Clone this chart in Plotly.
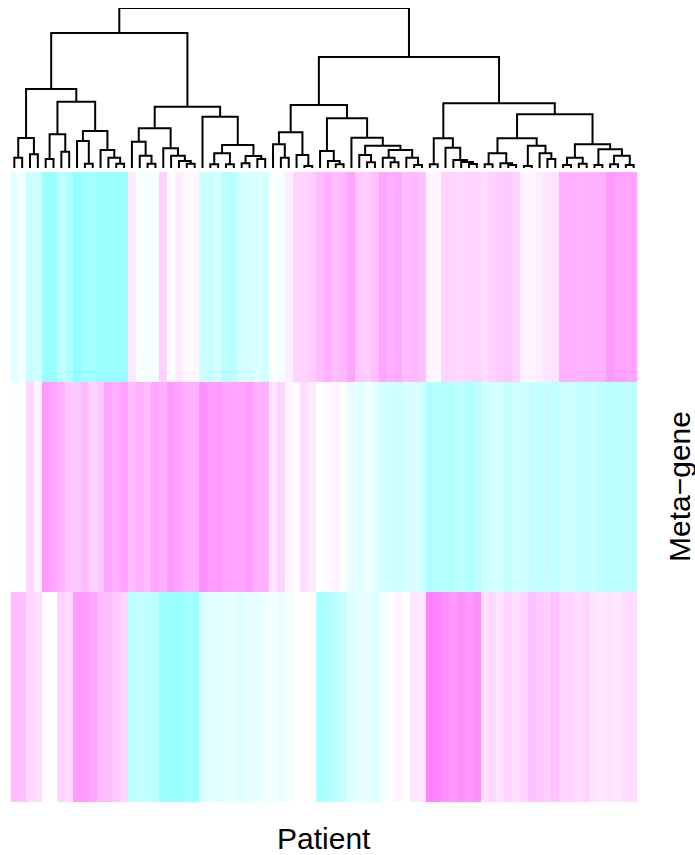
import plotly.graph_objects as go

# ---------------- data ----------------
n_patients = 80
patient_pos = list(range(n_patients))
metagene_rows = [0, 1, 2]

# meta-gene expression per patient (columns already in dendrogram order)
metagene1 = [-0.12, -0.05, -0.25, -0.22, -0.45, -0.45, -0.28, -0.35, -0.5, -0.42,
             -0.42, -0.45, -0.45, -0.45, -0.45, 0.1, -0.03, -0.05, -0.03, 0.2,
             0.0, 0.08, 0.03, 0.03, -0.22, -0.25, -0.2, -0.32, -0.3, -0.18,
             -0.2, -0.15, -0.2, 0.0, -0.05, 0.08, 0.2, 0.2, 0.22, 0.3,
             0.35, 0.3, 0.32, 0.4, 0.25, 0.22, 0.28, 0.4, 0.35, 0.38,
             0.3, 0.32, 0.28, 0.05, 0.04, 0.2, 0.2, 0.18, 0.2, 0.2,
             0.15, 0.2, 0.22, 0.25, 0.2, 0.05, 0.05, 0.08, 0.12, 0.12,
             0.35, 0.35, 0.33, 0.35, 0.35, 0.35, 0.45, 0.42, 0.4, 0.4]
metagene2 = [0.02, -0.02, 0.18, 0.05, 0.45, 0.4, 0.35, 0.25, 0.25, 0.3,
             0.2, 0.25, 0.4, 0.35, 0.4, 0.3, 0.35, 0.3, 0.4, 0.35,
             0.45, 0.4, 0.35, 0.35, 0.5, 0.45, 0.45, 0.4, 0.42, 0.4,
             0.45, 0.35, 0.35, 0.12, 0.2, 0.05, -0.02, 0.15, 0.1, 0.0,
             0.02, 0.05, 0.0, -0.1, -0.12, -0.08, -0.12, -0.2, -0.2, -0.22,
             -0.2, -0.18, -0.22, -0.35, -0.32, -0.35, -0.33, -0.3, -0.35, -0.3,
             -0.22, -0.2, -0.2, -0.25, -0.2, -0.22, -0.25, -0.28, -0.25, -0.28,
             -0.25, -0.22, -0.25, -0.28, -0.25, -0.3, -0.28, -0.3, -0.28, -0.3]
metagene3 = [0.3, 0.28, 0.18, 0.15, 0.02, 0.0, 0.2, 0.15, 0.45, 0.45,
             0.4, 0.3, 0.3, 0.25, 0.2, -0.3, -0.25, -0.28, -0.3, -0.45,
             -0.45, -0.45, -0.42, -0.45, -0.18, -0.12, -0.15, -0.12, -0.1, -0.15,
             -0.1, -0.12, -0.08, -0.05, -0.1, -0.05, -0.02, 0.0, 0.02, -0.35,
             -0.35, -0.3, -0.25, -0.15, -0.12, -0.1, -0.15, -0.05, -0.02, 0.05,
             0.0, 0.1, 0.1, 0.55, 0.55, 0.5, 0.45, 0.5, 0.45, 0.5,
             0.15, 0.18, 0.12, 0.2, 0.15, 0.2, 0.28, 0.25, 0.22, 0.28,
             0.2, 0.2, 0.15, 0.2, 0.12, 0.1, 0.12, 0.1, 0.15, 0.15]

# dendrogram: (merge height, left, right); ints are leaf positions
left_left = (79, (30, (10.3, 0, 1), (13.7, 2, 3)),
                 (66.3, (33.7, (9, 4, 5), (16.3, 6, 7)),
                        (37, (27, 8, (4.3, 9, 10)),
                             (18, 11, (10.3, 12, (4.3, 13, 14))))))
left_right = (61.3, (39.7, (26.3, 15, (12.3, 16, (4.3, 17, 18))),
                           (19.7, 19, (12.3, 20, (7, 21, (4.3, 22, 23))))),
                    (51.3, 24, (23, (14.7, (3.7, 25, 26), (3.7, 27, 28)),
                                    (12, (4.7, 29, 30), (9, 31, 32)))))
right_left = (63, (35.7, (23.7, 33, (10.3, 34, 35)), (13, 36, (2, 37, 38))),
                  (49.7, (17, 39, (7, 40, (3.7, 41, 42))),
                         (30.3, 43, (22.3, (13, 44, (5.7, 45, 46)),
                                           (18, (10.3, 47, (5.7, 48, 49)),
                                                (10.3, 50, (3, 51, 52)))))))
right_right = (64.7, (29.7, (3.7, 53, 54), (20.3, 55, (8, 56, (6, 57, (4, 58, 59))))),
                     (53.7, (29.7, (14.7, (3.7, 60, 61), (4.7, 62, (3, 63, 64))),
                                   (22.3, (2, 65, 66), (14.7, 67, (9, 68, 69)))),
                            (23.7, (10.3, (3, 70, 71), (4.3, 72, 73)),
                                   (18.7, (3, 74, 75), (12.3, (3.7, 76, 77), (3, 78, 79))))))
tree = (160, (135, left_left, left_right), (111, right_left, right_right))

# ---------------- build ----------------
W, H = 695, 855
seg_x, seg_y = [], []


def walk(node):
    if isinstance(node, int):
        return float(node), 0.0
    h, a, b = node
    xa, ha = walk(a)
    xb, hb = walk(b)
    seg_x.extend([xa, xa, xb, xb, None])
    seg_y.extend([ha, h, h, hb, None])
    return (xa + xb) / 2.0, h


walk(tree)

fig = go.Figure()
fig.add_trace(go.Heatmap(
    z=[metagene1, metagene2, metagene3], x=patient_pos, y=metagene_rows,
    colorscale=[[0, "rgb(30,255,255)"], [0.5, "rgb(255,255,255)"], [1, "rgb(255,30,255)"]],
    zmin=-1, zmax=1, showscale=False, hoverinfo="skip",
    xaxis="x", yaxis="y"))
fig.add_trace(go.Scatter(
    x=seg_x, y=seg_y, mode="lines", line=dict(color="black", width=2),
    hoverinfo="skip", showlegend=False, xaxis="x2", yaxis="y2"))

x_left, x_right = 10.4, 637.6
hm_top, hm_bot = 172, 802
dd_top, dd_bot = 8, 168

fig.update_layout(
    width=W, height=H, margin=dict(l=0, r=0, t=0, b=0),
    paper_bgcolor="white", plot_bgcolor="white", showlegend=False,
    xaxis=dict(domain=[x_left / W, x_right / W], range=[-0.5, n_patients - 0.5],
               visible=False, fixedrange=True),
    yaxis=dict(domain=[1 - hm_bot / H, 1 - hm_top / H], range=[2.5, -0.5],
               visible=False, fixedrange=True),
    xaxis2=dict(domain=[x_left / W, x_right / W], range=[-0.5, n_patients - 0.5],
                visible=False, anchor="y2", fixedrange=True),
    yaxis2=dict(domain=[1 - dd_bot / H, 1 - dd_top / H], range=[0, 160],
                visible=False, anchor="x2", fixedrange=True),
    annotations=[
        dict(text="Patient", x=(x_left + x_right) / 2 / W, y=1 - 838 / H,
             xref="paper", yref="paper", showarrow=False,
             font=dict(family="Liberation Sans, Arial", size=30, color="black"),
             xanchor="center", yanchor="middle"),
        dict(text="Meta\u2212gene", x=680 / W, y=1 - 487 / H, textangle=-90,
             xref="paper", yref="paper", showarrow=False,
             font=dict(family="Liberation Sans, Arial", size=30, color="black"),
             xanchor="center", yanchor="middle"),
    ],
)

fig.write_html("out.html")
